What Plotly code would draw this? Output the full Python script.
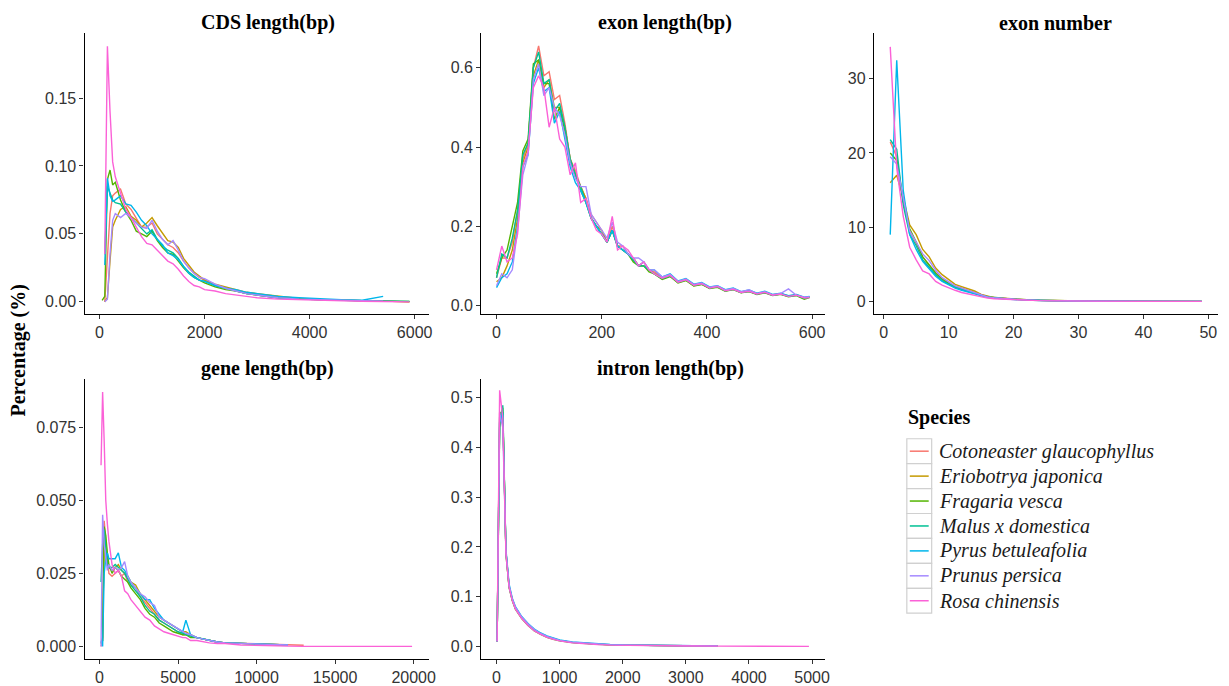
import plotly.graph_objects as go

species = [
    "Cotoneaster glaucophyllus",
    "Eriobotrya japonica",
    "Fragaria vesca",
    "Malus x domestica",
    "Pyrus betuleafolia",
    "Prunus persica",
    "Rosa chinensis",
]
colors = ["#F8766D", "#C49A00", "#53B400", "#00C094", "#00B6EB", "#A58AFF", "#FB61D7"]

# CDS length(bp)
cds_x = [50, 100, 150, 200, 250, 300, 400, 500, 600, 700, 800, 900, 1000, 1100, 1200, 1300, 1400, 1500,
         1600, 1700, 1800, 1900, 2000, 2200, 2400, 2600, 2800, 3000, 3400, 3800, 4200, 4600, 5000, 5400, 5900]
cds_y = [
    [None, 0.000, 0.030, 0.065, 0.078, 0.080, 0.083, 0.072, 0.068, 0.062, 0.055, 0.055, 0.058, 0.050, 0.046, 0.042, 0.040, 0.036,
     0.030, 0.025, 0.021, 0.018, 0.016, 0.012, 0.010, 0.008, 0.006, 0.005, 0.003, 0.002, 0.0015, 0.001, 0.001, 0.0005, 0.0],
    [None, 0.000, 0.003, 0.030, 0.055, 0.060, 0.068, 0.070, 0.063, 0.060, 0.055, 0.058, 0.062, 0.056, 0.050, 0.045, 0.044, 0.040,
     0.032, 0.027, 0.022, 0.019, 0.016, 0.013, 0.011, 0.009, 0.007, 0.006, 0.004, 0.0025, 0.0015, 0.001, 0.0008, 0.0005, 0.0],
    [0.001, 0.004, 0.090, 0.097, 0.086, 0.088, 0.075, 0.066, 0.060, 0.052, 0.050, 0.048, 0.052, 0.045, 0.040, 0.036, 0.035, 0.030,
     0.025, 0.021, 0.018, 0.016, 0.014, 0.011, 0.009, 0.008, 0.006, 0.005, 0.003, 0.002, 0.0015, 0.001, 0.0008, 0.0005, 0.0003],
    [None, 0.035, 0.085, 0.080, 0.075, 0.073, 0.072, 0.066, 0.062, 0.058, 0.054, 0.050, 0.053, 0.046, 0.041, 0.038, 0.036, 0.032,
     0.026, 0.022, 0.019, 0.016, 0.015, 0.012, 0.010, 0.008, 0.006, 0.005, 0.003, 0.002, 0.0015, 0.0012, 0.0008, 0.0006, 0.0003],
    [None, 0.027, 0.091, 0.078, 0.074, 0.075, 0.078, 0.072, 0.071, 0.066, 0.060, 0.056, 0.050, 0.046, 0.042, 0.036, 0.034, 0.031,
     0.026, 0.021, 0.018, 0.016, 0.015, 0.012, 0.010, 0.009, 0.007, 0.006, 0.004, 0.003, 0.002, 0.0015, 0.0012, 0.004, None],
    [None, 0.000, 0.002, 0.035, 0.060, 0.065, 0.062, 0.065, 0.062, 0.058, 0.055, 0.054, 0.060, 0.052, 0.046, 0.042, 0.045, 0.038,
     0.030, 0.025, 0.021, 0.018, 0.017, 0.013, 0.010, 0.008, 0.006, 0.005, 0.003, 0.002, 0.0015, 0.001, 0.0008, 0.0005, None],
    [None, 0.035, 0.188, 0.140, 0.103, 0.092, 0.080, 0.068, 0.062, 0.055, 0.048, 0.043, 0.042, 0.038, 0.034, 0.030, 0.028, 0.024,
     0.019, 0.015, 0.012, 0.011, 0.009, 0.008, 0.006, 0.005, 0.004, 0.003, 0.002, 0.0015, 0.001, 0.0005, 0.0003, 0.0002, 0.0],
]

# exon length(bp)
exon_len_x = [0, 10, 20, 30, 40, 50, 60, 70, 80, 90, 100, 110, 120, 130, 140, 150, 160, 170, 180, 190, 200,
              210, 220, 230, 240, 250, 260, 270, 280, 290, 300,
              315, 330, 345, 360, 375, 390, 405, 420, 435, 450, 465, 480, 495, 510, 525, 540, 555, 570, 585, 595]
exon_len_y = [
    [0.07, 0.12, 0.12, 0.16, 0.24, 0.37, 0.41, 0.60, 0.655, 0.58, 0.59, 0.52, 0.53, 0.46, 0.37, 0.34, 0.30, 0.27, 0.23, 0.21, 0.19,
     0.16, 0.20, 0.15, 0.15, 0.13, 0.12, 0.10, 0.11, 0.09, 0.085,
     0.07, 0.076, 0.06, 0.066, 0.052, 0.056, 0.045, 0.048, 0.038, 0.042, 0.034, 0.037, 0.030, 0.034, 0.027, 0.030, 0.024, 0.027, 0.020, 0.022],
    [0.06, 0.07, 0.10, 0.14, 0.22, 0.36, 0.40, 0.58, 0.62, 0.55, 0.57, 0.50, 0.50, 0.45, 0.37, 0.33, 0.30, 0.27, 0.22, 0.20, 0.19,
     0.16, 0.19, 0.15, 0.14, 0.13, 0.12, 0.10, 0.10, 0.09, 0.08,
     0.068, 0.074, 0.058, 0.064, 0.050, 0.054, 0.044, 0.047, 0.037, 0.041, 0.033, 0.036, 0.029, 0.033, 0.026, 0.029, 0.023, 0.026, 0.019, 0.021],
    [0.08, 0.12, 0.14, 0.20, 0.26, 0.39, 0.42, 0.61, 0.62, 0.56, 0.56, 0.47, 0.50, 0.44, 0.36, 0.33, 0.29, 0.26, 0.22, 0.20, 0.18,
     0.16, 0.19, 0.15, 0.14, 0.13, 0.11, 0.10, 0.10, 0.085, 0.08,
     0.066, 0.073, 0.057, 0.063, 0.049, 0.053, 0.043, 0.046, 0.036, 0.040, 0.032, 0.035, 0.028, 0.032, 0.025, 0.028, 0.022, 0.025, 0.016, 0.020],
    [0.07, 0.13, 0.12, 0.17, 0.24, 0.38, 0.41, 0.60, 0.64, 0.56, 0.57, 0.49, 0.51, 0.45, 0.37, 0.33, 0.30, 0.26, 0.22, 0.20, 0.18,
     0.16, 0.19, 0.15, 0.14, 0.13, 0.115, 0.10, 0.10, 0.09, 0.08,
     0.068, 0.075, 0.059, 0.065, 0.051, 0.055, 0.044, 0.048, 0.037, 0.041, 0.033, 0.036, 0.029, 0.033, 0.026, 0.029, 0.023, 0.026, 0.018, 0.021],
    [0.045, 0.07, 0.08, 0.11, 0.20, 0.35, 0.38, 0.56, 0.60, 0.54, 0.55, 0.46, 0.49, 0.42, 0.35, 0.31, 0.29, 0.26, 0.22, 0.20, 0.18,
     0.16, 0.19, 0.15, 0.14, 0.13, 0.12, 0.10, 0.11, 0.09, 0.09,
     0.072, 0.080, 0.062, 0.068, 0.054, 0.058, 0.047, 0.050, 0.040, 0.044, 0.035, 0.039, 0.031, 0.036, 0.028, 0.031, 0.025, 0.028, 0.021, 0.023],
    [0.05, 0.08, 0.07, 0.09, 0.19, 0.33, 0.38, 0.57, 0.61, 0.53, 0.55, 0.50, 0.48, 0.43, 0.36, 0.32, 0.30, 0.30, 0.23, 0.21, 0.19,
     0.17, 0.21, 0.16, 0.15, 0.13, 0.12, 0.12, 0.11, 0.09, 0.09,
     0.072, 0.078, 0.061, 0.067, 0.053, 0.057, 0.046, 0.049, 0.039, 0.043, 0.035, 0.040, 0.030, 0.035, 0.027, 0.030, 0.042, 0.026, 0.021, 0.022],
    [0.09, 0.15, 0.11, 0.12, 0.18, 0.35, 0.39, 0.55, 0.58, 0.55, 0.45, 0.50, 0.42, 0.40, 0.33, 0.36, 0.26, 0.27, 0.22, 0.19, 0.18,
     0.16, 0.225, 0.14, 0.15, 0.14, 0.12, 0.10, 0.11, 0.09, 0.08,
     0.069, 0.076, 0.059, 0.065, 0.051, 0.055, 0.044, 0.048, 0.037, 0.041, 0.033, 0.036, 0.029, 0.033, 0.026, 0.029, 0.023, 0.026, 0.019, 0.020],
]

# exon number
exon_num_x = [1, 2, 3, 4, 5, 6, 7, 8, 9, 10, 11, 12, 13, 14, 15, 16, 17, 18, 19, 20,
              22, 24, 26, 28, 30, 33, 36, 40, 44, 49]
exon_num_y = [
    [21.5, 19.5, 13.5, 9.5, 7.8, 6.0, 4.9, 3.9, 3.1, 2.5, 2.1, 1.8, 1.5, 1.2, 0.85, 0.65, 0.5, 0.42, 0.35, 0.28,
     0.2, 0.14, 0.1, 0.07, 0.05, 0.03, 0.02, 0.015, 0.01, 0.005],
    [16.0, 17.0, 14.0, 10.3, 9.0, 7.0, 6.0, 4.5, 3.6, 2.9, 2.3, 2.0, 1.7, 1.4, 0.95, 0.7, 0.5, 0.45, 0.38, 0.3,
     0.22, 0.15, 0.11, 0.08, 0.05, 0.03, 0.02, 0.015, 0.01, 0.005],
    [20.0, 19.0, 13.5, 9.8, 8.0, 6.0, 4.9, 3.8, 3.0, 2.4, 2.0, 1.7, 1.5, 1.2, 0.85, 0.65, 0.5, 0.45, 0.38, 0.3,
     0.22, 0.15, 0.1, 0.07, 0.05, 0.03, 0.02, 0.015, 0.01, 0.005],
    [21.8, 20.5, 13.0, 9.0, 7.5, 5.6, 4.6, 3.6, 2.8, 2.3, 1.9, 1.6, 1.4, 1.1, 0.8, 0.6, 0.45, 0.4, 0.33, 0.26,
     0.18, 0.12, 0.09, 0.06, 0.04, 0.03, 0.02, 0.01, 0.01, 0.005],
    [9.0, 32.5, 15.0, 9.0, 7.0, 5.4, 4.4, 3.4, 2.7, 2.2, 1.8, 1.5, 1.3, 1.1, 0.8, 0.55, 0.45, 0.4, 0.32, 0.25,
     0.18, 0.12, 0.08, 0.06, 0.04, 0.03, 0.02, 0.01, 0.01, 0.005],
    [19.5, 18.5, 14.0, 9.5, 8.0, 6.4, 5.5, 4.2, 3.2, 2.6, 2.1, 1.8, 1.5, 1.2, 0.85, 0.6, 0.5, 0.42, 0.35, 0.28,
     0.2, 0.14, 0.1, 0.07, 0.05, 0.03, 0.02, 0.015, 0.01, 0.005],
    [34.3, 18.0, 11.5, 7.3, 5.6, 4.1, 3.7, 2.7, 2.2, 1.8, 1.5, 1.2, 1.0, 0.9, 0.6, 0.45, 0.35, 0.3, 0.25, 0.2,
     0.14, 0.1, 0.07, 0.05, 0.04, 0.02, 0.015, 0.01, 0.005, 0.003],
]

# gene length(bp)
gene_x = [100, 200, 300, 400, 500, 600, 800, 1000, 1200, 1400, 1600, 1800, 2000, 2300, 2600, 2900, 3200, 3500, 3800,
          4100, 4400, 4700, 5000, 5300, 5500, 5800, 6200, 6600, 7000, 7500, 8000, 9000, 10000, 11000, 12000, 13000,
          15000, 17500, 19900]
gene_y = [
    [0.000, 0.002, 0.043, 0.035, 0.030, 0.025, 0.024, 0.025, 0.026, 0.024, 0.025, 0.022, 0.021, 0.020, 0.017, 0.015, 0.013, 0.011, 0.009,
     0.008, 0.007, 0.006, 0.005, 0.004, 0.004, 0.0035, 0.003, 0.0025, 0.002, 0.0015, 0.0012, 0.001, 0.0008, 0.0006, 0.0005, 0.0004,
     None, None, None],
    [0.001, 0.003, 0.038, 0.035, 0.030, 0.027, 0.026, 0.027, 0.028, 0.026, 0.025, 0.024, 0.022, 0.021, 0.018, 0.016, 0.014, 0.012, 0.010,
     0.009, 0.008, 0.007, 0.006, 0.005, 0.005, 0.004, 0.003, 0.0025, 0.002, 0.0015, 0.0012, 0.001, 0.0009, 0.0007, 0.0005, None,
     None, None, None],
    [0.001, 0.002, 0.041, 0.038, 0.032, 0.028, 0.025, 0.027, 0.026, 0.024, 0.023, 0.022, 0.020, 0.018, 0.016, 0.013, 0.011, 0.010, 0.008,
     0.007, 0.006, 0.005, 0.0045, 0.004, 0.004, 0.003, 0.003, 0.0025, 0.002, 0.0015, 0.0012, 0.001, 0.0008, 0.0006, 0.0005, None,
     None, None, None],
    [0.022, 0.035, 0.040, 0.033, 0.028, 0.027, 0.027, 0.028, 0.027, 0.026, 0.025, 0.023, 0.021, 0.019, 0.017, 0.014, 0.012, 0.011, 0.009,
     0.008, 0.007, 0.006, 0.005, 0.0045, 0.004, 0.0035, 0.003, 0.0025, 0.002, 0.0015, 0.0012, 0.001, 0.0008, 0.0006, 0.0005, None,
     None, None, None],
    [0.002, 0.000, 0.025, 0.030, 0.032, 0.030, 0.030, 0.030, 0.032, 0.027, 0.026, 0.024, 0.022, 0.020, 0.018, 0.016, 0.016, 0.013, 0.011,
     0.009, 0.008, 0.007, 0.006, 0.005, 0.009, 0.004, 0.003, 0.0025, 0.002, 0.0015, 0.0012, 0.001, 0.0008, 0.0006, 0.0005, None,
     None, None, None],
    [0.000, 0.045, 0.035, 0.030, 0.026, 0.028, 0.026, 0.027, 0.026, 0.027, 0.029, 0.024, 0.022, 0.020, 0.018, 0.017, 0.015, 0.014, 0.010,
     0.009, 0.008, 0.007, 0.006, 0.005, 0.0045, 0.004, 0.003, 0.0025, 0.002, 0.0015, 0.0012, 0.001, 0.0008, 0.0006, 0.0005, None,
     None, None, None],
    [0.062, 0.087, 0.070, 0.050, 0.042, 0.036, 0.028, 0.025, 0.026, 0.024, 0.019, 0.018, 0.016, 0.014, 0.012, 0.010, 0.009, 0.007, 0.006,
     0.005, 0.0045, 0.004, 0.0035, 0.003, 0.003, 0.002, 0.002, 0.0015, 0.0012, 0.001, 0.001, 0.0005, 0.0003, 0.0002, 0.0001, 0.0,
     0.0, 0.0, 0.0],
]

# intron length(bp)
intron_x = [10, 50, 100, 150, 200, 250, 300, 350, 400, 500, 600, 700, 800, 900, 1000, 1200, 1400, 1600, 1800, 2000,
            2500, 3000, 3500, 4000, 4500, 4950]
intron_y = [
    [0.01, 0.47, 0.47, 0.19, 0.12, 0.095, 0.078, 0.067, 0.058, 0.044, 0.033, 0.025, 0.019, 0.015, 0.012, 0.008, 0.006, 0.004, 0.003, 0.0025,
     0.0015, 0.001, 0.0008, None, None, None],
    [0.01, 0.44, 0.47, 0.19, 0.12, 0.093, 0.076, 0.065, 0.057, 0.043, 0.032, 0.025, 0.019, 0.015, 0.012, 0.008, 0.006, 0.004, 0.003, 0.0025,
     0.0015, 0.001, 0.0008, None, None, None],
    [0.01, 0.46, 0.48, 0.185, 0.118, 0.092, 0.075, 0.064, 0.056, 0.042, 0.031, 0.024, 0.018, 0.014, 0.011, 0.0075, 0.0055, 0.004, 0.003, 0.0025,
     0.0015, 0.001, 0.0008, None, None, None],
    [0.01, 0.45, 0.485, 0.19, 0.12, 0.094, 0.077, 0.066, 0.058, 0.044, 0.033, 0.026, 0.020, 0.016, 0.012, 0.008, 0.006, 0.0045, 0.0035, 0.0028,
     0.0018, 0.0012, 0.0009, None, None, None],
    [0.01, 0.45, 0.47, 0.195, 0.125, 0.097, 0.080, 0.069, 0.060, 0.046, 0.035, 0.027, 0.021, 0.017, 0.013, 0.009, 0.007, 0.005, 0.004, 0.003,
     0.002, 0.0015, 0.001, None, None, None],
    [0.01, 0.47, 0.44, 0.19, 0.122, 0.096, 0.079, 0.068, 0.059, 0.045, 0.034, 0.026, 0.020, 0.016, 0.012, 0.0085, 0.0065, 0.0045, 0.0035, 0.0028,
     0.0018, 0.0012, 0.0009, None, None, None],
    [0.01, 0.515, 0.46, 0.185, 0.118, 0.092, 0.075, 0.064, 0.056, 0.042, 0.031, 0.024, 0.018, 0.014, 0.011, 0.007, 0.005, 0.0035, 0.0025, 0.002,
     0.0012, 0.0008, 0.0005, 0.0003, 0.0002, 0.0001],
]

panels = [
    ("CDS length(bp)", cds_x, cds_y),
    ("exon length(bp)", exon_len_x, exon_len_y),
    ("exon number", exon_num_x, exon_num_y),
    ("gene length(bp)", gene_x, gene_y),
    ("intron length(bp)", intron_x, intron_y),
]

# the page body has an 8px margin, so the figure starts 8px in from the window corner
OFF = 8
W, H = 1229 - OFF, 686 - OFF


def px(v):
    return (v - OFF) / W


def py(v):
    return 1 - (v - OFF) / H


# panel boxes in window pixels: (left, right, top, bottom)
boxes = [(85, 431, 33, 315), (484, 830, 33, 315), (879, 1225, 33, 315),
         (85, 431, 380, 661), (484, 830, 380, 661)]
x_ranges = [[-285, 6265], [-29, 625], [-1.5, 51.5], [-950, 20950], [-241, 5209]]
y_ranges = [[-0.00903, 0.1979], [-0.0217, 0.688], [-1.71, 36.18], [-0.00433, 0.0915], [-0.0255, 0.538]]
x_ticks = [[0, 2000, 4000, 6000], [0, 200, 400, 600], [0, 10, 20, 30, 40, 50],
           [0, 5000, 10000, 15000, 20000], [0, 1000, 2000, 3000, 4000, 5000]]
y_ticks = [[0, 0.05, 0.10, 0.15], [0, 0.2, 0.4, 0.6], [0, 10, 20, 30],
           [0, 0.025, 0.05, 0.075], [0, 0.1, 0.2, 0.3, 0.4, 0.5]]
y_fmt = [".2f", ".1f", "d", ".3f", ".1f"]
title_x = [270, 669, 1062, 269, 674]
title_y = [23, 23, 23, 370, 370]

serif = "Liberation Serif, Times New Roman, serif"
sans = "Liberation Sans, Arial, sans-serif"

fig = go.Figure()

for p, (title, xs, ys) in enumerate(panels):
    suffix = "" if p == 0 else str(p + 1)
    for s, name in enumerate(species):
        fig.add_trace(go.Scatter(
            x=xs, y=ys[s], mode="lines",
            line=dict(color=colors[s], width=1.4),
            name=name,
            showlegend=False,
            xaxis="x" + suffix, yaxis="y" + suffix,
        ))

axis_common = dict(
    showline=True, linecolor="black", linewidth=1.3,
    ticks="outside", ticklen=4, tickwidth=1.1, tickcolor="#333",
    showgrid=False, zeroline=False,
    tickfont=dict(family=sans, size=16, color="#333"),
)

layout = {}
for p in range(5):
    suffix = "" if p == 0 else str(p + 1)
    l, r, t, b = boxes[p]
    layout["xaxis" + suffix] = dict(
        axis_common, domain=[px(l), px(r)], range=x_ranges[p],
        tickvals=x_ticks[p], tickformat="d", anchor="y" + suffix,
    )
    layout["yaxis" + suffix] = dict(
        axis_common, domain=[py(b), py(t)], range=y_ranges[p],
        tickvals=y_ticks[p], tickformat=y_fmt[p], anchor="x" + suffix,
    )

annotations = []
for p, (title, _, _) in enumerate(panels):
    annotations.append(dict(
        text=f"<b>{title}</b>", x=px(title_x[p]), y=py(title_y[p]),
        xref="paper", yref="paper", showarrow=False,
        xanchor="center", yanchor="middle",
        font=dict(family=serif, size=20, color="black"),
    ))
annotations.append(dict(
    text="<b>Percentage (%)</b>", x=px(19.5), y=py(351),
    xref="paper", yref="paper", showarrow=False, textangle=-90,
    xanchor="center", yanchor="middle",
    font=dict(family=serif, size=20, color="black"),
))

# legend drawn as ggplot-style keys: grey boxed swatches with species names in italics
shapes = []
annotations.append(dict(
    text="<b>Species</b>", x=px(911), y=py(419), xref="paper", yref="paper",
    showarrow=False, xanchor="left", yanchor="middle",
    font=dict(family=serif, size=20, color="black"),
))
key_top, key_h = 440, 25
for s, name in enumerate(species):
    top = key_top + s * key_h
    mid = top + key_h / 2
    shapes.append(dict(type="rect", xref="paper", yref="paper",
                       x0=px(912), x1=px(937), y0=py(top + key_h), y1=py(top),
                       line=dict(color="#D0D0D0", width=1.2), fillcolor="white"))
    shapes.append(dict(type="line", xref="paper", yref="paper",
                       x0=px(915), x1=px(934), y0=py(mid), y1=py(mid),
                       line=dict(color=colors[s], width=1.5)))
    annotations.append(dict(
        text=f"<i>{name}</i>", x=px(942), y=py(mid), xref="paper", yref="paper",
        showarrow=False, xanchor="left", yanchor="middle",
        font=dict(family=serif, size=20, color="#1a1a1a"),
    ))

fig.update_layout(
    width=W, height=H,
    margin=dict(l=0, r=0, t=0, b=0),
    paper_bgcolor="white", plot_bgcolor="white",
    annotations=annotations,
    shapes=shapes,
    showlegend=False,
    **layout,
)

fig.write_html("out.html")
